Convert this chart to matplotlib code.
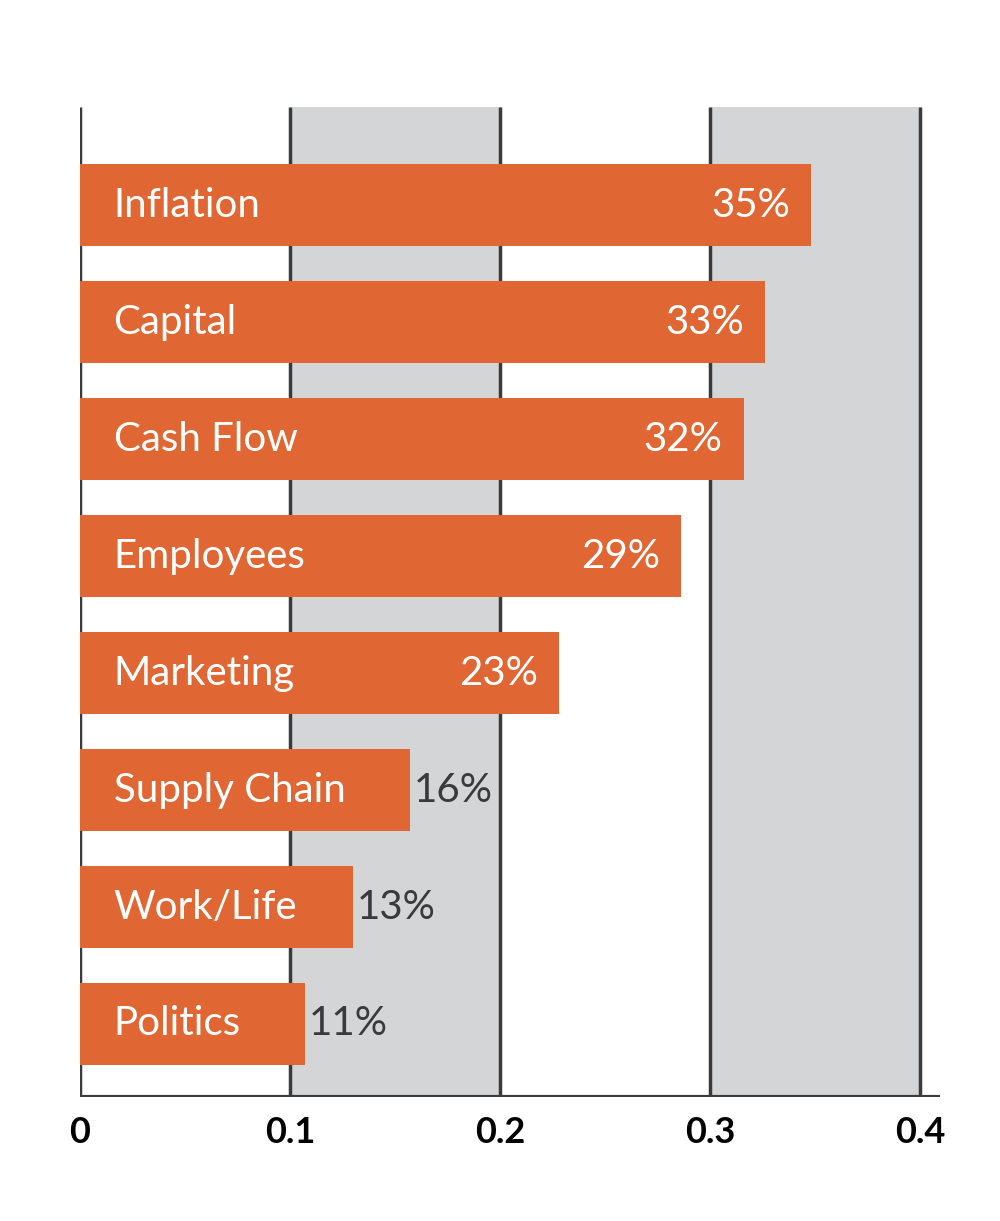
import matplotlib
matplotlib.use('Agg')
import matplotlib.pyplot as plt

categories = ['Inflation', 'Capital', 'Cash Flow', 'Employees', 'Marketing',
              'Supply Chain', 'Work/Life', 'Politics']
values = [0.348, 0.326, 0.316, 0.286, 0.228, 0.157, 0.130, 0.107]
labels = ['35%', '33%', '32%', '29%', '23%', '16%', '13%', '11%']
ticks = [0, 0.1, 0.2, 0.3, 0.4]
tick_labels = ['0', '0.1', '0.2', '0.3', '0.4']

plt.rcParams['font.family'] = ['Lato', 'DejaVu Sans']
orange = '#e06733'
dark = '#3a3a3a'

fig = plt.figure(figsize=(10, 12.21), dpi=100)
ax = fig.add_axes([0.08, 1 - 1097 / 1221, 0.86, 990 / 1221])
ax.set_xlim(0, 0.4095)
ax.set_ylim(7.624, -0.838)

for a, b in [(0.1, 0.2), (0.3, 0.4)]:
    ax.axvspan(a, b, color='#d4d5d7', zorder=0)
ax.vlines(ticks, -0.838, 7.624, color=dark, lw=2.5, zorder=1)
ax.axhline(7.624, color=dark, lw=3, zorder=3)

ypos = list(range(len(categories)))
ax.barh(ypos, values, height=0.70, color=orange, zorder=2)

for y, v, name, lab in zip(ypos, values, categories, labels):
    ax.text(0.016, y, name, color='white', fontsize=29, va='center', ha='left', zorder=4)
    if v > 0.2:
        ax.text(v - 0.01, y, lab, color='white', fontsize=29, va='center', ha='right', zorder=4)
    else:
        ax.text(v + 0.002, y, lab, color=dark, fontsize=29, va='center', ha='left', zorder=4)

for s in ax.spines.values():
    s.set_visible(False)
ax.set_yticks([])
ax.set_xticks(ticks)
ax.set_xticklabels(tick_labels, fontsize=26, fontweight='bold')
ax.tick_params(axis='x', length=0, pad=14)

fig.savefig('out.png', dpi=100)
